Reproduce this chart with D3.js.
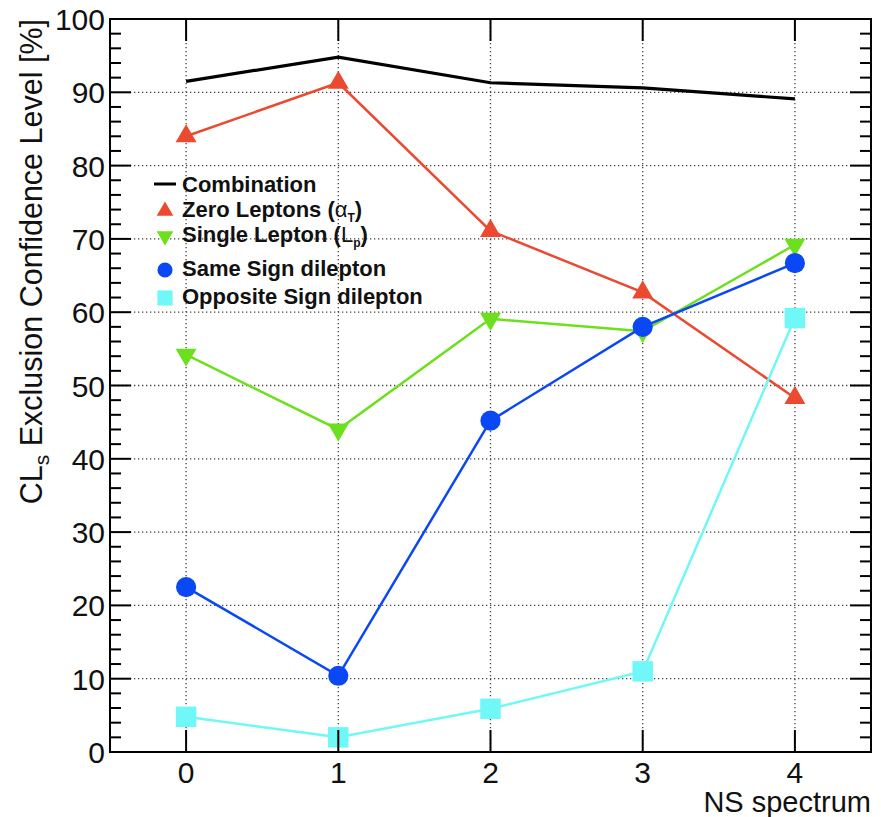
<!DOCTYPE html>
<html>
<head>
<meta charset="utf-8">
<script src="https://cdn.jsdelivr.net/npm/d3@7"></script>
<style>
  body { margin: 0; background: #fff; }
  text { font-family: "Liberation Sans", Arial, sans-serif; }
</style>
</head>
<body>
<div id="canvas"></div>
<script>
"use strict"

// data
let nsPoints = [0, 1, 2, 3, 4]
let combination = [91.5, 94.8, 91.3, 90.6, 89.1]
let zeroLeptons = [84.0, 91.3, 71.1, 62.7, 48.3]
let singleLepton = [54.2, 44.0, 59.1, 57.4, 69.2]
let sameSign = [22.5, 10.4, 45.2, 58.0, 66.7]
let oppositeSign = [4.8, 2.0, 5.9, 11.0, 59.2]
let yTicks = [0, 10, 20, 30, 40, 50, 60, 70, 80, 90, 100]

let W = 881, H = 817
let plotLeft = 110, plotRight = 871, plotTop = 19, plotBottom = 752

let drawing = d3.select("#canvas")
    .append("svg")
    .attr("width", W)
    .attr("height", H)

let x = d3.scaleLinear().domain([-0.5, 4.5]).range([plotLeft, plotRight])
let y = d3.scaleLinear().domain([0, 100]).range([plotBottom, plotTop])

// dotted grid
let grid = drawing.append("g")
    .attr("stroke", "#444")
    .attr("stroke-width", 1.3)
    .attr("stroke-dasharray", "1.3,2.7")
grid.selectAll(".gx").data(nsPoints).enter().append("line")
    .attr("x1", d => x(d)).attr("x2", d => x(d))
    .attr("y1", plotTop).attr("y2", plotBottom)
grid.selectAll(".gy").data(yTicks.slice(1, -1)).enter().append("line")
    .attr("x1", plotLeft).attr("x2", plotRight)
    .attr("y1", d => y(d)).attr("y2", d => y(d))

// series
let series = [
    { name: "Combination", values: combination, color: "#000000", marker: null, width: 3.2 },
    { name: "Zero", values: zeroLeptons, color: "#ec4a30", marker: "up", width: 2.5 },
    { name: "Single", values: singleLepton, color: "#6ce01c", marker: "down", width: 2.5 },
    { name: "Same", values: sameSign, color: "#0a48f6", marker: "circle", width: 2.5 },
    { name: "Opposite", values: oppositeSign, color: "#70f8f8", marker: "square", width: 2.5 }
]

let line = d3.line()
    .x((d, i) => x(nsPoints[i]))
    .y(d => y(d))

function markerPath(kind, big) {
    if (kind === "circle") return d3.symbol(d3.symbolCircle, big ? 320 : 180)()
    if (kind === "square") return d3.symbol(d3.symbolSquare, big ? 420 : 230)()
    return d3.symbol(d3.symbolTriangle, big ? 190 : 120)()
}

series.forEach(s => {
    drawing.append("path")
        .attr("d", line(s.values))
        .attr("fill", "none")
        .attr("stroke", s.color)
        .attr("stroke-width", s.width)
})

series.forEach(s => {
    if (!s.marker) return
    drawing.selectAll(null).data(s.values).enter().append("path")
        .attr("d", markerPath(s.marker, true))
        .attr("transform", (d, i) => "translate(" + x(nsPoints[i]) + "," + y(d) + ")" +
            (s.marker === "down" ? " rotate(180)" : ""))
        .attr("fill", s.color)
})

// frame
drawing.append("rect")
    .attr("x", plotLeft).attr("y", plotTop)
    .attr("width", plotRight - plotLeft).attr("height", plotBottom - plotTop)
    .attr("fill", "none")
    .attr("stroke", "#000")
    .attr("stroke-width", 2)

// ticks (inward, on all sides)
let yMinor = d3.range(0, 101, 2)
let ticks = drawing.append("g").attr("stroke", "#000").attr("stroke-width", 2)
ticks.selectAll(".yl").data(yMinor).enter().append("line")
    .attr("x1", plotLeft).attr("x2", d => plotLeft + (d % 10 === 0 ? 21 : 11))
    .attr("y1", d => y(d)).attr("y2", d => y(d))
ticks.selectAll(".yr").data(yMinor).enter().append("line")
    .attr("x1", plotRight).attr("x2", d => plotRight - (d % 10 === 0 ? 21 : 11))
    .attr("y1", d => y(d)).attr("y2", d => y(d))
ticks.selectAll(".xb").data(nsPoints).enter().append("line")
    .attr("x1", d => x(d)).attr("x2", d => x(d))
    .attr("y1", plotBottom).attr("y2", plotBottom - 22)
ticks.selectAll(".xt").data(nsPoints).enter().append("line")
    .attr("x1", d => x(d)).attr("x2", d => x(d))
    .attr("y1", plotTop).attr("y2", plotTop + 22)

// tick labels
drawing.selectAll(".ylab").data(yTicks).enter().append("text")
    .attr("x", plotLeft - 5)
    .attr("y", d => y(d) + 11)
    .attr("text-anchor", "end")
    .attr("font-size", 30)
    .attr("fill", "#111")
    .text(d => d)
drawing.selectAll(".xlab").data(nsPoints).enter().append("text")
    .attr("x", d => x(d))
    .attr("y", plotBottom + 31)
    .attr("text-anchor", "middle")
    .attr("font-size", 30)
    .attr("fill", "#111")
    .text(d => d)

// axis titles
drawing.append("text")
    .attr("x", plotRight)
    .attr("y", 812)
    .attr("text-anchor", "end")
    .attr("font-size", 29)
    .attr("fill", "#111")
    .text("NS spectrum")

let yTitle = drawing.append("text")
    .attr("transform", "translate(42," + plotTop + ") rotate(-90)")
    .attr("text-anchor", "end")
    .attr("font-size", 30.5)
    .attr("fill", "#111")
yTitle.append("tspan").text("CL")
yTitle.append("tspan").attr("font-size", 21).attr("dy", 7).text("s")
yTitle.append("tspan").attr("dy", -7).text(" Exclusion Confidence Level [%]")

// legend
let legendX = 165, textX = 182
let legendRows = [
    { y: 184, main: "Combination" },
    { y: 209, main: "Zero Leptons (", sym: "α", sub: "T", tail: ")" },
    { y: 234, main: "Single Lepton (", sym: "L", sub: "p", tail: ")" },
    { y: 268, main: "Same Sign dilepton" },
    { y: 296, main: "Opposite Sign dilepton" }
]

let legend = drawing.append("g")
legend.append("line")
    .attr("x1", legendX - 11).attr("x2", legendX + 11)
    .attr("y1", legendRows[0].y).attr("y2", legendRows[0].y)
    .attr("stroke", "#000").attr("stroke-width", 3)

series.forEach((s, i) => {
    let row = legendRows[i]
    if (s.marker) {
        legend.append("path")
            .attr("d", markerPath(s.marker, false))
            .attr("transform", "translate(" + legendX + "," + (row.y + 2) + ")" + (s.marker === "down" ? " rotate(180)" : ""))
            .attr("fill", s.color)
    }
    let t = legend.append("text")
        .attr("x", textX)
        .attr("y", row.y + 8)
        .attr("font-size", 22)
        .attr("font-weight", "bold")
        .attr("fill", "#111")
    t.append("tspan").text(row.main)
    if (row.sym) {
        t.append("tspan").attr("font-weight", "normal").text(row.sym)
        t.append("tspan").attr("font-size", 12).attr("dy", 5).text(row.sub)
        t.append("tspan").attr("dy", -5).text(row.tail)
    }
})
</script>
</body>
</html>
